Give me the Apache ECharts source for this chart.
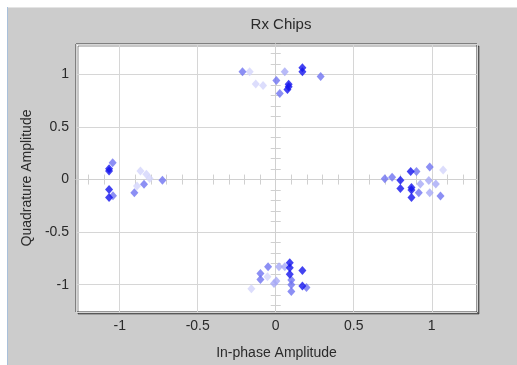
<!DOCTYPE html>
<html>
<head>
<meta charset="utf-8">
<script src="https://cdn.jsdelivr.net/npm/echarts@6/dist/echarts.min.js"></script>
<style>
html,body{margin:0;padding:0;background:#fff;}
#c{width:517px;height:365px;}
</style>
</head>
<body>
<div id="c"></div>
<script>
// ---- data (In-phase, Quadrature) ----
const titleText = 'Rx Chips';
const xName = 'In-phase Amplitude';
const yName = 'Quadrature Amplitude';
const xRange = [-1.28, 1.29];
const yRange = [-1.26, 1.29];

const darkPoints = [
  [0.171,1.063],[0.171,1.025],[0.083,0.906],[0.083,0.884],[0.075,0.858],
  [-1.068,0.104],[-1.068,0.082],[-1.068,-0.094],[-1.068,-0.17],
  [0.799,-0.006],[0.799,-0.085],[0.865,0.078],[0.87,-0.075],[0.87,-0.1],[0.87,-0.17],
  [0.09,-0.792],[0.09,-0.84],[0.09,-0.9],[0.171,-0.865],[0.171,-1.012]
];
const mediumPoints = [
  [-0.213,1.025],[0.288,0.981],[0.004,0.943],[0.026,0.818],
  [-1.045,0.16],[-0.726,-0.006],[-0.844,-0.044],[-0.906,-0.126],[-1.043,-0.154],
  [0.699,0.009],[0.746,0.022],[0.902,0.078],[0.987,0.12],[0.917,-0.126],[1.056,-0.157],
  [-0.049,-0.83],[-0.098,-0.893],[-0.098,-0.95],[0.1,-1.0],[0.197,-1.028],[0.1,-1.066],[0.1,-0.956]
];
const lightPoints = [
  [0.058,1.025],
  [0.927,-0.041],[0.981,-0.009],[1.026,-0.041],[0.987,-0.126],
  [0.021,-0.83],[0.058,-0.83],[-0.011,-0.988],[0.004,-0.965]
];
const palePoints = [
  [-0.167,1.025],[-0.128,0.91],[-0.081,0.896],
  [-0.867,0.082],[-0.829,0.05],[-0.808,0.01],[-0.889,-0.06],
  [1.073,0.091],
  [-0.053,-0.925],[-0.156,-1.038]
];

const FONT = 'Liberation Sans, Arial, sans-serif';
const TXT = '#2a2a2a';
const chart = echarts.init(document.getElementById('c'), null, {renderer:'canvas'});

function crossX(inside){
  return {type:'value', min:xRange[0], max:xRange[1], splitNumber:25, position:'bottom',
    axisLine:{show:true, onZero:true, lineStyle:{color:'#d0d0d0', width:1}},
    axisTick:{show:true, inside:inside, length:5, lineStyle:{color:'#d0d0d0'}},
    axisLabel:{show:false}, splitLine:{show:false}};
}
function crossY(inside){
  return {type:'value', min:yRange[0], max:yRange[1], splitNumber:25, position:'left',
    axisLine:{show:true, onZero:true, lineStyle:{color:'#d0d0d0', width:1}},
    axisTick:{show:true, inside:inside, length:5, lineStyle:{color:'#d0d0d0'}},
    axisLabel:{show:false}, splitLine:{show:false}};
}
function sc(name, data, color){
  return {name:name, type:'scatter', data:data, symbol:'diamond', symbolSize:[8,9],
    itemStyle:{color:color}, xAxisIndex:0, yAxisIndex:0, z:5};
}

chart.setOption({
  backgroundColor:'#cccccc',
  animation:false,
  title:{text:titleText, left:276, top:12, textAlign:'center',
    textStyle:{fontFamily:FONT, fontSize:15, fontWeight:'normal', color:TXT}},
  graphic:[
    {type:'rect', shape:{x:0,y:0,width:517,height:7}, style:{fill:'#ffffff'}, silent:true},
    {type:'rect', shape:{x:0,y:0,width:7,height:365}, style:{fill:'#ffffff'}, silent:true},
    {type:'line', shape:{x1:7,y1:7.5,x2:517,y2:7.5}, style:{stroke:'#e4e4e4', lineWidth:1}, silent:true},
    {type:'line', shape:{x1:7.5,y1:7,x2:7.5,y2:365}, style:{stroke:'#a9c0da', lineWidth:1}, silent:true}
  ],
  grid:{left:76, top:44, right:40, bottom:50, show:true, backgroundColor:'#ffffff',
    borderColor:'#333333', borderWidth:1,
    shadowColor:'rgba(0,0,0,0.45)', shadowBlur:0, shadowOffsetX:2, shadowOffsetY:2},
  xAxis:[
    {type:'value', min:xRange[0], max:xRange[1], splitNumber:5, position:'bottom',
      axisLine:{show:false, onZero:false}, axisTick:{show:false},
      axisLabel:{showMinLabel:false, showMaxLabel:false, color:TXT, fontSize:14, fontFamily:FONT, margin:7},
      splitLine:{show:true, lineStyle:{color:'#d6d6d6', width:1}},
      name:xName, nameLocation:'middle', nameGap:34,
      nameTextStyle:{color:TXT, fontSize:14, fontFamily:FONT}},
    crossX(false), crossX(true)
  ],
  yAxis:[
    {type:'value', min:yRange[0], max:yRange[1], splitNumber:5, position:'left',
      axisLine:{show:false, onZero:false}, axisTick:{show:false},
      axisLabel:{showMinLabel:false, showMaxLabel:false, color:TXT, fontSize:14, fontFamily:FONT, margin:7},
      splitLine:{show:true, lineStyle:{color:'#d6d6d6', width:1}},
      name:yName, nameLocation:'middle', nameGap:41,
      nameTextStyle:{color:TXT, fontSize:14, fontFamily:FONT}},
    crossY(false), crossY(true)
  ],
  series:[
    sc('pale', palePoints, '#d3d5fb'),
    sc('light', lightPoints, '#a6a9f6'),
    sc('medium', mediumPoints, '#6f73f1'),
    sc('dark', darkPoints, '#1414ee')
  ]
});
</script>
</body>
</html>
